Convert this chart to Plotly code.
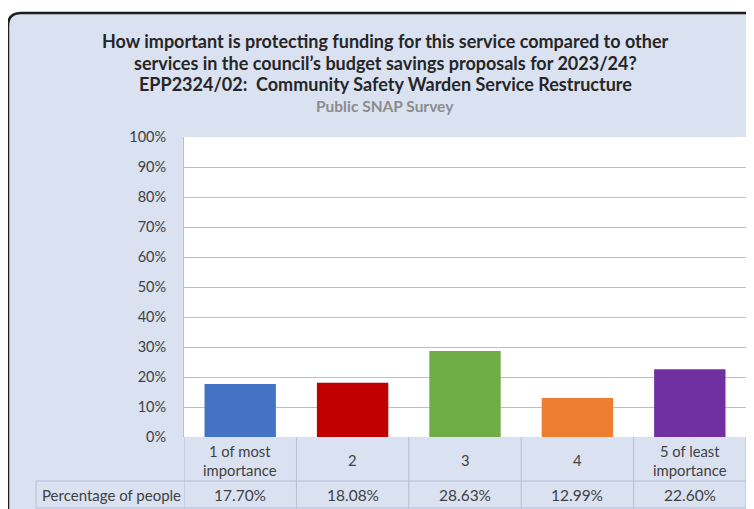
import plotly.graph_objects as go

W, H = 754, 509

categories = ["1 of most<br>importance", "2", "3", "4", "5 of least<br>importance"]
values = [17.70, 18.08, 28.63, 12.99, 22.60]
colors = ["#4472c4", "#c00000", "#70ad47", "#ed7d31", "#7030a0"]
row_label = "Percentage of people"
title_lines = [
    "How important is protecting funding for this service compared to other",
    "services in the council\u2019s budget savings proposals for 2023/24?",
    "EPP2324/02:  Community Safety Warden Service Restructure",
]
subtitle = "Public SNAP Survey"
y_ticks = list(range(0, 101, 10))

FONT = "Lato, Carlito, Calibri, sans-serif"
TXT = "#404040"
FRAME_BG = "#dae2f2"
TABLE_LINE = "#b4bdd2"

# the page body has an 8px margin, so the figure starts 8px right and down
OFF = 8

def px(x):
    return (x - OFF) / W

def py(y):
    return 1 - (y - OFF) / H

# plot area pixel bounds (page coordinates)
PL, PR, PT, PB = 184, 746, 137, 437

fig = go.Figure()
fig.add_trace(go.Bar(
    x=list(range(len(categories))), y=values, marker=dict(color=colors, line=dict(width=0)),
    showlegend=False, hovertext=categories, hoverinfo="text+y",
))

shapes = []
# outer rounded frame
r = 13
pts = [(8, 13 + r), (8, 13), (8 + r, 13), (790, 13), (790, 560), (8, 560)]
path = (f"M {px(pts[0][0])},{py(pts[0][1])} Q {px(pts[1][0])},{py(pts[1][1])} {px(pts[2][0])},{py(pts[2][1])} "
        f"L {px(pts[3][0])},{py(pts[3][1])} L {px(pts[4][0])},{py(pts[4][1])} L {px(pts[5][0])},{py(pts[5][1])} Z")
shapes.append(dict(type="path", path=path, xref="paper", yref="paper",
                   fillcolor=FRAME_BG, line=dict(color="#1e1e1e", width=2.5), layer="below"))
# white plot area
shapes.append(dict(type="rect", xref="paper", yref="paper", x0=px(PL), x1=px(PR), y0=py(PB), y1=py(PT),
                   fillcolor="white", line=dict(width=0), layer="below"))

# data table lines
ROW1, ROW2 = 481, 508
n = len(categories)
for i in range(n + 1):
    shapes.append(dict(type="line", xref="x", yref="paper", x0=i - 0.5, x1=i - 0.5,
                       y0=py(ROW2), y1=py(PB), line=dict(color=TABLE_LINE, width=1)))
for yy in (ROW1, ROW2):
    shapes.append(dict(type="line", xref="paper", yref="paper", x0=px(36), x1=px(PR),
                       y0=py(yy), y1=py(yy), line=dict(color=TABLE_LINE, width=1)))
shapes.append(dict(type="line", xref="paper", yref="paper", x0=px(36), x1=px(36),
                   y0=py(ROW2), y1=py(ROW1), line=dict(color=TABLE_LINE, width=1)))

annotations = []
title_y = [41, 62.5, 84]
for line, yy in zip(title_lines, title_y):
    annotations.append(dict(text=line, xref="paper", yref="paper", x=px(385), y=py(yy),
                            xanchor="center", yanchor="middle", showarrow=False,
                            font=dict(family=FONT, size=18, color="#262626", weight="bold")))
annotations.append(dict(text=subtitle, xref="paper", yref="paper", x=px(385), y=py(106),
                        xanchor="center", yanchor="middle", showarrow=False,
                        font=dict(family=FONT, size=15.5, color="#8c8c8c", weight="bold")))
for i, c in enumerate(categories):
    annotations.append(dict(text=c, xref="x", yref="paper", x=i, y=py(460),
                            xanchor="center", yanchor="middle", showarrow=False,
                            font=dict(family=FONT, size=14.8, color=TXT)))
for i, v in enumerate(values):
    annotations.append(dict(text=f"{v:.2f}%", xref="x", yref="paper", x=i, y=py(495),
                            xanchor="center", yanchor="middle", showarrow=False,
                            font=dict(family=FONT, size=15.5, color=TXT)))
annotations.append(dict(text=row_label, xref="paper", yref="paper", x=px(40), y=py(495),
                        xanchor="left", yanchor="middle", showarrow=False,
                        font=dict(family=FONT, size=15, color=TXT)))

fig.update_layout(
    template="none",
    width=W, height=H,
    margin=dict(l=0, r=0, t=0, b=0, pad=0),
    paper_bgcolor="white",
    plot_bgcolor="rgba(0,0,0,0)",
    bargap=0.365,
    shapes=shapes,
    annotations=annotations,
    font=dict(family=FONT, color=TXT),
    xaxis=dict(domain=[px(PL), px(PR)], range=[-0.5, n - 0.5], showticklabels=False, showgrid=False,
               zeroline=False, showline=False, ticks="", fixedrange=True, automargin=False),
    yaxis=dict(domain=[py(PB), py(PT)], range=[0, 100], tickvals=y_ticks,
               ticktext=[f"{t}%" for t in y_ticks], showgrid=True, gridcolor="#bfbfbf",
               gridwidth=1, zeroline=False, showline=True, linecolor="#bfbfbf",
               ticks="", ticklabelstandoff=14, automargin=False,
               tickfont=dict(family=FONT, size=14.5, color=TXT), fixedrange=True),
)

fig.write_html("out.html")
